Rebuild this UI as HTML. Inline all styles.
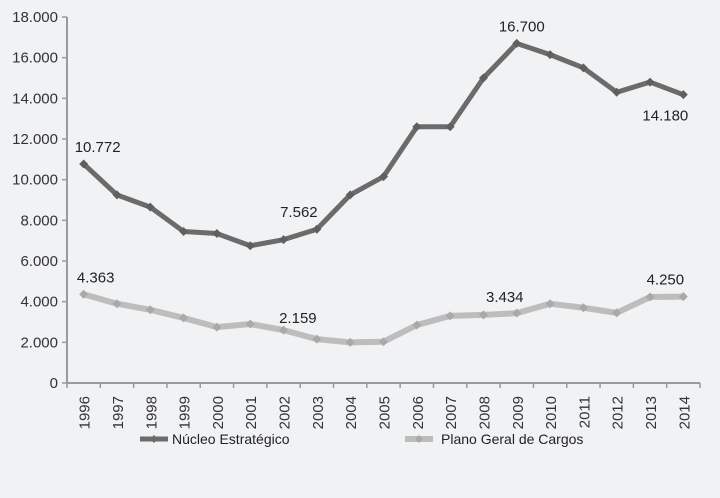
<!DOCTYPE html>
<html><head><meta charset="utf-8">
<style>
html,body{margin:0;padding:0;background:#f1f2f4;}
svg{display:block;font-family:"Liberation Sans",sans-serif;}
</style></head>
<body>
<svg id="chart" width="720" height="498" viewBox="0 0 720 498">
<rect x="0" y="0" width="720" height="498" fill="#f1f2f4"/>
<g id="axes"></g>
<g id="series"></g>
<g id="legend">
  <g>
    <line x1="140" y1="439" x2="168" y2="439" stroke="#6b6b6b" stroke-width="5"/>
    <path d="M154 435 L158 439 L154 443 L150 439 Z" fill="#6b6b6b"/>
    <text x="172" y="444" font-size="14" fill="#222">Núcleo Estratégico</text>
  </g>
  <g>
    <line x1="405" y1="439" x2="433" y2="439" stroke="#bcbcbc" stroke-width="6"/>
    <path d="M419 435 L423 439 L419 443 L415 439 Z" fill="#a8a8a8"/>
    <text x="441" y="444" font-size="14" fill="#222">Plano Geral de Cargos</text>
  </g>
</g>
</svg>
<script>
const years=["1996","1997","1998","1999","2000","2001","2002","2003","2004","2005","2006","2007","2008","2009","2010","2011","2012","2013","2014"];
const nucleo=[10772,9250,8650,7450,7350,6750,7050,7562,9250,10150,12600,12600,15000,16700,16150,15500,14300,14800,14180];
const plano=[4363,3900,3600,3200,2750,2900,2600,2159,2000,2030,2850,3300,3350,3434,3900,3700,3450,4230,4250];
const yTicks=[0,2000,4000,6000,8000,10000,12000,14000,16000,18000];
const yTickLabels=["0","2.000","4.000","6.000","8.000","10.000","12.000","14.000","16.000","18.000"];
const nucleoLabels=[[0,"10.772",14,-12],[7,"7.562",-18,-12],[13,"16.700",5,-12],[18,"14.180",-18,26]];
const planoLabels=[[0,"4.363",12,-12],[7,"2.159",-19,-16],[13,"3.434",-12,-11],[18,"4.250",-18,-12]];

const NS="http://www.w3.org/2000/svg";
const X0=67,X1=700,Y0=383,Y1=17,YMAX=18000;
const band=(X1-X0)/years.length;
const xs=i=>X0+band*(i+0.5);
const ys=v=>Y0-(v/YMAX)*(Y0-Y1);
function mk(tag,attrs,parent,text){const e=document.createElementNS(NS,tag);for(const k in attrs)e.setAttribute(k,attrs[k]);if(text!==undefined)e.textContent=text;parent.appendChild(e);return e;}
const axes=document.getElementById('axes'),ser=document.getElementById('series');

let a=mk('line',{x1:X0,y1:Y1,x2:X0,y2:Y0,stroke:'#9a9a9a','stroke-width':2},axes);


a=mk('line',{x1:X0,y1:Y0,x2:X1,y2:Y0,stroke:'#9a9a9a','stroke-width':2},axes);


yTicks.forEach((v,i)=>{
  mk('line',{x1:X0-5,y1:ys(v),x2:X0,y2:ys(v),stroke:'#9a9a9a','stroke-width':1.5},axes);
  const t=mk('text',{x:X0-9,y:ys(v)+5,'text-anchor':'end','font-size':15,fill:'#333'},axes,yTickLabels[i]);
  
  
});
for(let i=0;i<=years.length;i++){
  const x=X0+band*i;
  mk('line',{x1:x,y1:Y0,x2:x,y2:Y0+5,stroke:'#9a9a9a','stroke-width':1.5},axes);
}
years.forEach((y,i)=>{
  const x=xs(i);
  const t=mk('text',{x:x+6,y:396,'text-anchor':'end','font-size':15,fill:'#333',transform:`rotate(-90 ${x+6} 396)`},axes,y);
  
  
});
function draw(vals,color,mcolor,w,name,labels){
  const p=mk('polyline',{points:vals.map((v,i)=>xs(i)+','+ys(v)).join(' '),fill:'none',stroke:color,'stroke-width':w,'stroke-linejoin':'round'},ser);
  
  
  vals.forEach((v,i)=>{
    const x=xs(i),y=ys(v);
    const m=mk('path',{d:`M${x} ${y-4.5}L${x+4.5} ${y}L${x} ${y+4.5}L${x-4.5} ${y}Z`,fill:mcolor},ser);
    
    
  });
  labels.forEach(([i,s,dx,dy])=>{
    const t=mk('text',{x:xs(i)+dx,y:ys(vals[i])+dy,'text-anchor':'middle','font-size':15,fill:'#222'},ser,s);
    
    
  });
}
draw(plano,'#bdbdbd','#a9a9a9',6,'plano',planoLabels);
draw(nucleo,'#6b6b6b','#5f5f5f',5,'nucleo',nucleoLabels);
</script>
</body></html>
